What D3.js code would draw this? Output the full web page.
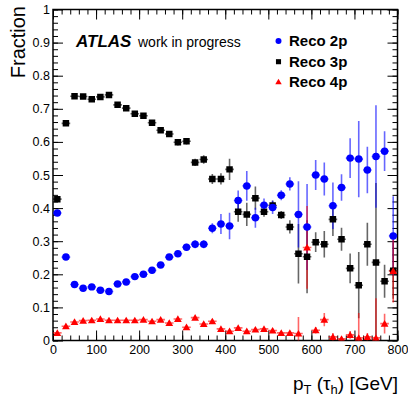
<!DOCTYPE html>
<html>
<head>
<meta charset="utf-8">
<script src="https://cdn.jsdelivr.net/npm/d3@7"></script>
<style>
  html, body { margin: 0; padding: 0; background: #fff; }
  svg { display: block; font-family: "Liberation Sans", Arial, Helvetica, sans-serif; }
</style>
</head>
<body>
<svg id="chart" width="408" height="400"></svg>
<script>
// ---- data ----
const binCenters = [10,30,50,70,90,110,130,150,170,190,210,230,250,270,290,310,330,350,370,390,
                    410,430,450,470,490,510,530,550,570,590,610,630,650,670,690,710,730,750,770,790];
const binHalfWidth = 10;

const reco2p = [0.385,0.252,0.169,0.158,0.162,0.152,0.148,0.171,0.177,0.193,0.200,0.212,0.228,0.252,0.262,0.282,0.291,0.291,0.339,0.352,
                0.346,0.423,0.467,0.371,0.409,0.402,0.439,0.473,0.381,0.343,0.500,0.488,0.407,0.462,0.551,0.548,0.515,0.556,0.572,0.316];
const reco2pErr = [0.006,0.006,0.006,0.006,0.006,0.006,0.006,0.006,0.006,0.006,0.006,0.007,0.007,0.008,0.008,0.010,0.012,0.012,0.015,0.030,
                   0.040,0.030,0.045,0.030,0.020,0.020,0.015,0.020,0.100,0.130,0.045,0.050,0.070,0.040,0.060,0.115,0.070,0.155,0.060,0.120];

const reco3p = [0.427,0.656,0.738,0.737,0.729,0.736,0.742,0.712,0.702,0.685,0.679,0.658,0.635,0.624,0.599,0.602,0.538,0.547,0.488,0.488,
                0.517,0.389,0.381,0.430,0.389,0.408,0.379,0.343,0.262,0.253,0.297,0.291,0.366,0.306,0.218,0.167,0.291,0.236,0.179,0.211];
const reco3pErr = [0.008,0.007,0.005,0.005,0.005,0.005,0.005,0.006,0.006,0.006,0.007,0.007,0.008,0.009,0.010,0.010,0.011,0.013,0.015,0.017,
                   0.032,0.030,0.035,0.035,0.015,0.015,0.012,0.020,0.090,0.110,0.030,0.040,0.050,0.035,0.045,0.100,0.065,0.240,0.050,0.085];

const reco4p = [0.023,0.043,0.056,0.060,0.061,0.065,0.061,0.061,0.061,0.061,0.063,0.058,0.063,0.053,0.065,0.040,0.069,0.050,0.058,0.035,
                0.028,0.038,0.028,0.033,0.035,0.030,0.023,0.023,0.021,0.281,0.031,0.063,0.011,0.005,0.017,0.008,0.011,0.008,0.051,0.210];
const reco4pErr = [0.004,0.004,0.004,0.004,0.004,0.004,0.004,0.004,0.004,0.004,0.004,0.004,0.005,0.005,0.005,0.005,0.006,0.006,0.006,0.006,
                   0.006,0.006,0.006,0.006,0.006,0.006,0.006,0.006,0.050,0.125,0.010,0.020,0.012,0.006,0.012,0.075,0.012,0.120,0.030,0.095];

const xTickLabels = [0,100,200,300,400,500,600,700,800];
const yTickLabels = [0,0.1,0.2,0.3,0.4,0.5,0.6,0.7,0.8,0.9,1];
const seriesNames = ["Reco 2p","Reco 3p","Reco 4p"];
const seriesColors = ["#0000ff","#000000","#ff0000"];

// ---- layout ----
const svg = d3.select("#chart");
const pL = 53, pR = 397.5, pT = 9.5, pB = 340.5;
const x = d3.scaleLinear().domain([0,800]).range([pL,pR]);
const y = d3.scaleLinear().domain([0,1]).range([pB,pT]);

svg.append("defs").append("clipPath").attr("id","plotclip")
  .append("rect").attr("x",pL).attr("y",pT).attr("width",pR-pL).attr("height",pB-pT);

// ---- axes ----
const minorX = d3.range(0,801,20);
const minorY = d3.range(0,1.0001,0.02);
function styleAxis(g){ g.select(".domain").remove(); g.selectAll("line").attr("stroke","#000").attr("stroke-width",1); }

svg.append("g").attr("transform",`translate(0,${pB})`)
  .call(d3.axisBottom(x).tickValues(minorX).tickSize(-5).tickFormat(""))
  .call(styleAxis);
svg.append("g").attr("transform",`translate(0,${pB})`)
  .call(d3.axisBottom(x).tickValues(xTickLabels).tickSize(-10).tickPadding(5).tickFormat(d3.format("d")))
  .call(styleAxis)
  .call(g => g.selectAll("text").attr("font-size",12.5).attr("fill","#000").attr("font-family","Liberation Sans, Arial, sans-serif"));
svg.append("g").attr("transform",`translate(0,${pT})`)
  .call(d3.axisTop(x).tickValues(minorX).tickSize(-5).tickFormat("")).call(styleAxis);
svg.append("g").attr("transform",`translate(0,${pT})`)
  .call(d3.axisTop(x).tickValues(xTickLabels).tickSize(-10).tickFormat("")).call(styleAxis);

svg.append("g").attr("transform",`translate(${pL},0)`)
  .call(d3.axisLeft(y).tickValues(minorY).tickSize(-5).tickFormat("")).call(styleAxis);
svg.append("g").attr("transform",`translate(${pL},0)`)
  .call(d3.axisLeft(y).tickValues(yTickLabels).tickSize(-10).tickPadding(3).tickFormat(d => d===0?"0":d===1?"1":d3.format(".1f")(d)))
  .call(styleAxis)
  .call(g => g.selectAll("text").attr("font-size",12.5).attr("fill","#000").attr("font-family","Liberation Sans, Arial, sans-serif"));
svg.append("g").attr("transform",`translate(${pR},0)`)
  .call(d3.axisRight(y).tickValues(minorY).tickSize(-5).tickFormat("")).call(styleAxis);
svg.append("g").attr("transform",`translate(${pR},0)`)
  .call(d3.axisRight(y).tickValues(yTickLabels).tickSize(-10).tickFormat("")).call(styleAxis);

svg.append("rect").attr("x",pL).attr("y",pT).attr("width",pR-pL).attr("height",pB-pT)
  .attr("fill","none").attr("stroke","#000").attr("stroke-width",1.5);

// ---- data series ----
const series = [
  {name: seriesNames[1], vals: reco3p, errs: reco3pErr, color: seriesColors[1], sym: d3.symbolSquare, size: 42},
  {name: seriesNames[0], vals: reco2p, errs: reco2pErr, color: seriesColors[0], sym: d3.symbolCircle, size: 44},
  {name: seriesNames[2], vals: reco4p, errs: reco4pErr, color: seriesColors[2], sym: d3.symbolTriangle, size: 26}
];

const plot = svg.append("g").attr("clip-path","url(#plotclip)");
series.forEach(s => {
  const pts = binCenters.map((c,i) => ({c, v: s.vals[i], e: s.errs[i]}));
  const g = plot.append("g");
  g.selectAll("line.ey").data(pts).join("line")
    .attr("x1", d => x(d.c)).attr("x2", d => x(d.c))
    .attr("y1", d => y(d.v - d.e)).attr("y2", d => y(d.v + d.e))
    .attr("stroke", s.color).attr("stroke-opacity",0.6).attr("stroke-width",1.6);
  g.selectAll("line.ex").data(pts).join("line")
    .attr("x1", d => x(d.c - binHalfWidth)).attr("x2", d => x(d.c + binHalfWidth))
    .attr("y1", d => y(d.v)).attr("y2", d => y(d.v))
    .attr("stroke", s.color).attr("stroke-opacity",0.6).attr("stroke-width",1.6);
});
series.forEach(s => {
  const pts = binCenters.map((c,i) => ({c, v: s.vals[i]}));
  plot.append("g").selectAll("path").data(pts).join("path")
    .attr("d", d3.symbol().type(s.sym).size(s.size))
    .attr("transform", d => `translate(${x(d.c)},${y(d.v) + (s.sym===d3.symbolTriangle?0.8:0)})`)
    .attr("fill", s.color);
});

// ---- titles ----
svg.append("text").attr("transform","translate(25,6) rotate(-90)")
  .attr("text-anchor","end").attr("font-size",20).text("Fraction");

const xt = svg.append("text").attr("x",398).attr("y",390).attr("text-anchor","end").attr("font-size",19);
xt.append("tspan").text("p");
xt.append("tspan").attr("font-size",13).attr("dy",4).text("T");
xt.append("tspan").attr("dy",-4).text(" (τ");
xt.append("tspan").attr("font-size",13).attr("dy",4).text("h");
xt.append("tspan").attr("dy",-4).text(") [GeV]");

// ATLAS label
svg.append("text").attr("x",76).attr("y",47).attr("font-size",17).attr("font-weight","bold").attr("font-style","italic").text("ATLAS");
svg.append("text").attr("x",138).attr("y",47).attr("font-size",14).text("work in progress");

// legend
const legendOrder = [
  {name: seriesNames[0], color: seriesColors[0], sym: d3.symbolCircle, size: 28},
  {name: seriesNames[1], color: seriesColors[1], sym: d3.symbolSquare, size: 26},
  {name: seriesNames[2], color: seriesColors[2], sym: d3.symbolTriangle, size: 18}
];
const lg = svg.append("g");
legendOrder.forEach((l,i) => {
  const cy = 41 + i*20.7;
  lg.append("path").attr("d", d3.symbol().type(l.sym).size(l.size)).attr("transform",`translate(278.5,${cy})`).attr("fill", l.color);
  lg.append("text").attr("x",289).attr("y",cy+5).attr("font-size",15).attr("font-weight","bold").text(l.name);
});
</script>
</body>
</html>
